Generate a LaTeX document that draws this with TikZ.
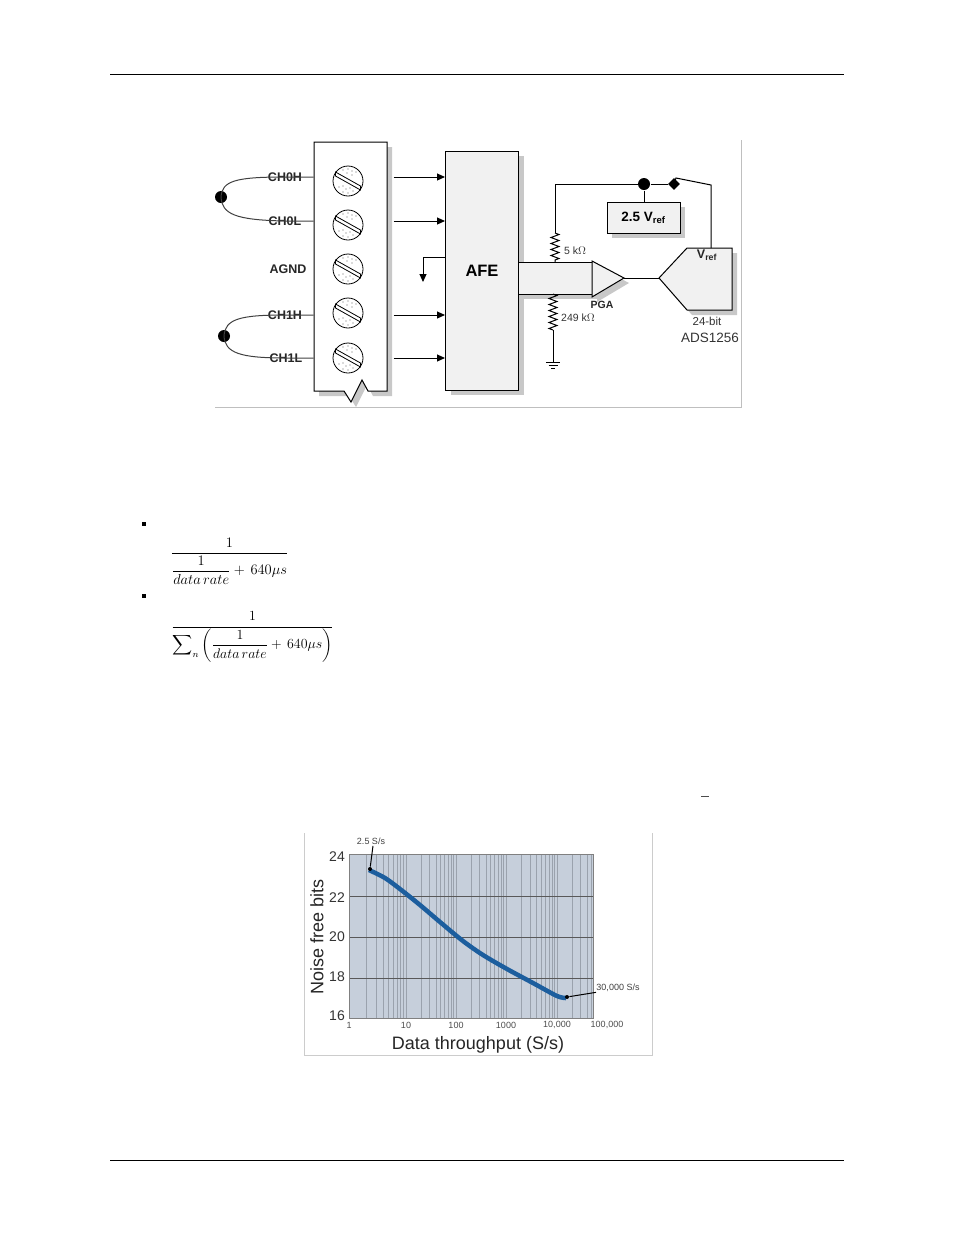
\documentclass[tikz,border=0pt]{standalone}
\usepackage{amsmath}
\usepackage[no-math]{fontspec}
\setmainfont{Liberation Sans}
\usetikzlibrary{shadows,shapes.geometric,decorations.pathmorphing,arrows.meta}
\definecolor{boxgrey}{HTML}{F1F1F1}
\definecolor{shadegrey}{HTML}{C8C8C8}
\definecolor{plotgrey}{HTML}{C6CFDB}
\definecolor{curveblue}{HTML}{1C5E9E}
\definecolor{gridgrey}{HTML}{9AA2AD}
\begin{document}
\begin{tikzpicture}[
x=1pt, y=-1pt,
line width=1pt,
shaded/.style={drop shadow={shadow xshift=5pt, shadow yshift=-5pt, fill=shadegrey, opacity=1}},
greybox/.style={draw, fill=boxgrey, inner sep=0pt, shaded},
wirelabel/.style={font=\bfseries\fontsize{12.5}{14}\selectfont, inner sep=0pt, text=black!85},
smalllabel/.style={font=\fontsize{10.5}{12}\selectfont, inner sep=0pt, text=black!80},
screw/.style={draw, line width=0.8pt, circle, fill=white, minimum size=30pt, inner sep=0pt},
junction/.style={circle, fill=black, minimum size=12pt, inner sep=0pt},
signal/.style={-{Triangle[length=8pt,width=7pt]}},
resistor/.style={decorate, decoration={zigzag, segment length=6pt, amplitude=4pt}},
ticklabel/.style={font=\fontsize{9}{11}\selectfont, inner sep=0pt, text=black!70},
yticklabel/.style={font=\fontsize{14}{16}\selectfont, inner sep=0pt, text=black!80},
axislabel/.style={font=\fontsize{18}{20}\selectfont, inner sep=0pt, text=black!85},
note/.style={font=\fontsize{9}{11}\selectfont, inner sep=0pt, text=black!75},
formula/.style={font=\large, inner sep=0pt}
]
\useasboundingbox (0,0) rectangle (954,1235);

% page rules
\coordinate (headl) at (110,74);
\coordinate (headr) at (844,74);
\coordinate (footl) at (110,1160);
\coordinate (footr) at (844,1160);
\draw[line width=0.7pt] (headl) -- (headr);
\draw[line width=0.7pt] (footl) -- (footr);

% frame of the schematic
\coordinate (framel) at (215,407);
\coordinate (framec) at (741,407);
\coordinate (framet) at (741,140);
\draw[black!25] (framel) -- (framec) -- (framet);

% terminal block
\draw[fill=white, shaded] (314,142) -- (387,142) -- (387,380) -- (387,391) -- (368,391)
  -- (362,380) -- (351,402) -- (344,391) -- (314,391) -- cycle;
\node (term) at (350.5,266.5) [minimum width=73, minimum height=249, inner sep=0pt] {};
\foreach \n/\y in {0/181,1/225,2/269,3/313,4/358} {
  \node (screw\n) at (348,\y) [screw] {};
  \foreach \dx/\dy in {-5/-11,0/-12,4/-10,8/-9,-1/-8,4/-6,-9/6,-5/5,-2/8,2/7,-5/11,0/12,5/10,6/5} {
    \fill[black!60] (screw\n.center) ++(\dx,\dy) circle (0.6pt);
  }
  \draw[fill=white, line width=0.8pt] (screw\n.center) ++(-12.5,-9) -- ++(25,14) -- ++(0,4) -- ++(-25,-14) -- cycle;
}

% channel wires
\node (ch0h) at (285,177) [wirelabel] {CH0H};
\node (ch0l) at (285,221) [wirelabel] {CH0L};
\node (agnd) at (288,269) [wirelabel] {AGND};
\node (ch1h) at (285,315) [wirelabel] {CH1H};
\node (ch1l) at (286,358) [wirelabel] {CH1L};
\node (dot0) at (221,197) [junction] {};
\node (dot1) at (224,336) [junction] {};
\draw[black!75] (term.west |- ch0h) -- (ch0h.center) .. controls (235,177) and (222,181) .. (dot0.center);
\draw[black!75] (term.west |- ch0l) -- (ch0l.center) .. controls (235,220) and (222,214) .. (dot0.center);
\draw[black!75] (term.west |- ch1h) -- (ch1h.center) .. controls (240,315) and (225,319) .. (dot1.center);
\draw[black!75] (term.west |- ch1l) -- (ch1l.center) .. controls (240,358) and (225,353) .. (dot1.center);

% analog front end
\node (afe) at (482,270.5) [greybox, minimum width=73, minimum height=239, font=\bfseries\fontsize{16.5}{18}\selectfont] {AFE};
\foreach \from in {ch0h,ch0l,ch1h,ch1l} {
  \draw[signal] ([xshift=6]term.east |- \from) -- (afe.west |- \from);
}
\coordinate (agndend) at (423,282);
\draw[signal] (afe.west |- 0,257) -| (agndend);

% amplifier and converter
\node (band) at (555,278) [greybox, minimum width=74, minimum height=32] {};
\draw[fill=boxgrey, shaded] (592,261) -- (624,278) -- (592,297) -- cycle;
\coordinate (pgaout) at (624,278);
\draw[fill=boxgrey, shaded] (659,278) -- (687,248) -- (732,248) -- (732,310) -- (687,310) -- cycle;
\coordinate (adcin) at (659,278);
\coordinate (adcref) at (711,248);
\draw (pgaout) -- (adcin);
\node (pga) at (602,305) [wirelabel, font=\bfseries\fontsize{10.5}{12}\selectfont] {PGA};
\node (vref) at (707,255) [wirelabel] {V\textsubscript{ref}};
\node (bits) at (707,321) [smalllabel, font=\fontsize{11.5}{13}\selectfont] {24-bit};
\node (chip) at (710,338) [smalllabel, font=\fontsize{13.5}{15}\selectfont] {ADS1256};

% reference network
\node (refbox) at (643.5,217.5) [greybox, minimum width=73, minimum height=31, font=\bfseries\fontsize{13.5}{15}\selectfont] {2.5 V\textsubscript{ref}};
\node (refdot) at (644,184) [junction] {};
\node (refsw) at (674,184) [diamond, fill=black, minimum size=12pt, inner sep=0pt] {};
\coordinate (corner) at (555,184);
\coordinate (rtop) at (555,233);
\coordinate (rbot) at (555,262);
\coordinate (swtop) at (676,178);
\coordinate (swend) at (711,185);
\draw (rtop) -- (corner) -- (refdot) -- (refsw);
\draw (refdot) -- (refbox.north -| refdot);
\draw (refsw.center) -- (swtop) -- (swend) -- (adcref);
\draw[resistor] (rtop) -- (rbot);
\node (rlabel) at (575,251) [smalllabel] {5 k$\Omega$};
\coordinate (ltop) at (553,294);
\coordinate (lbot) at (553,330);
\coordinate (gnd) at (553,362);
\draw[resistor] (ltop) -- (lbot);
\draw (lbot) -- (gnd);
\draw (gnd) ++(-7,0) -- ++(14,0);
\draw (gnd) ++(-4.5,3) -- ++(9,0);
\draw (gnd) ++(-2,6) -- ++(4,0);
\node (llabel) at (578,318) [smalllabel] {249 k$\Omega$};

% bullets and formulas
\node (bul0) at (144,524) [rectangle, fill=black, minimum size=4pt, inner sep=0pt] {};
\node (bul1) at (144,596) [rectangle, fill=black, minimum size=4pt, inner sep=0pt] {};
\node (rate0) at (229.5,561.5) [formula, scale=1.21] {$\dfrac{1}{\dfrac{1}{data\,rate}+\,640\mu s}$};
\node (rate1) at (252.5,637) [formula, scale=1.16] {$\dfrac{1}{\displaystyle\sum\nolimits_{n}\left(\dfrac{1}{data\,rate}+\,640\mu s\right)}$};
\node (stray) at (705,796) [rectangle, fill=black!70, minimum width=8pt, minimum height=1pt, inner sep=0pt] {};

% noise plot
\coordinate (chartbl) at (304,1055);
\coordinate (charttl) at (304,833);
\coordinate (chartbr) at (652,1055);
\coordinate (charttr) at (652,833);
\draw[black!20] (charttl) -- (chartbl) -- (chartbr) -- (charttr);
\fill[plotgrey] (349,854) rectangle (593,1018);
\foreach \d/\w in {349/57,406/50,456/50,506/51} {
  \foreach \k in {2,...,9} {
    \draw[gridgrey] ({\d+\w*log10(\k)},854) -- ({\d+\w*log10(\k)},1018);
  }
  \draw[gridgrey] (\d,854) -- (\d,1018);
}
\foreach \k in {1,...,5} {
  \draw[gridgrey] ({557+50*log10(\k)},854) -- ({557+50*log10(\k)},1018);
}
\foreach \y in {896,937,978} {
  \draw[black!65] (349,\y) -- (593,\y);
}
\draw[black!50] (349,854) rectangle (593,1018);
\foreach \y/\t in {857/24,898/22,937/20,977/18,1016/16} {
  \node (ytick\t) at (337,\y) [yticklabel] {\t};
}
\foreach \x/\t/\n in {349/1/a,406/10/b,456/100/c,506/1000/d,557/10{,}000/e,607/100{,}000/f} {
  \node (xtick\n) at (\x,1025) [ticklabel] {\t};
}
\node (ylabel) at (317,937) [axislabel, rotate=90] {Noise free bits};
\node (xlabel) at (478,1044.5) [axislabel] {Data throughput (S/s)};
\draw[curveblue, line width=4.5pt, line join=round] plot[smooth, tension=0.5] coordinates {
  (369,870) (385,878) (400,889) (420,905) (440,922) (463,941) (483,955) (507,969) (533,983) (557,996) (566,998)
};
\node (lowdot) at (370,869) [circle, fill=black, minimum size=4pt, inner sep=0pt] {};
\node (highdot) at (567,997) [circle, fill=black, minimum size=4pt, inner sep=0pt] {};
\node (lownote) at (371,841) [note] {2.5 S/s};
\node (highnote) at (618,988) [note] {30,000 S/s};
\draw (lownote.south) ++(2,1) -- (lowdot);
\draw (highdot) -- (highnote.south west);

\end{tikzpicture}
\end{document}
